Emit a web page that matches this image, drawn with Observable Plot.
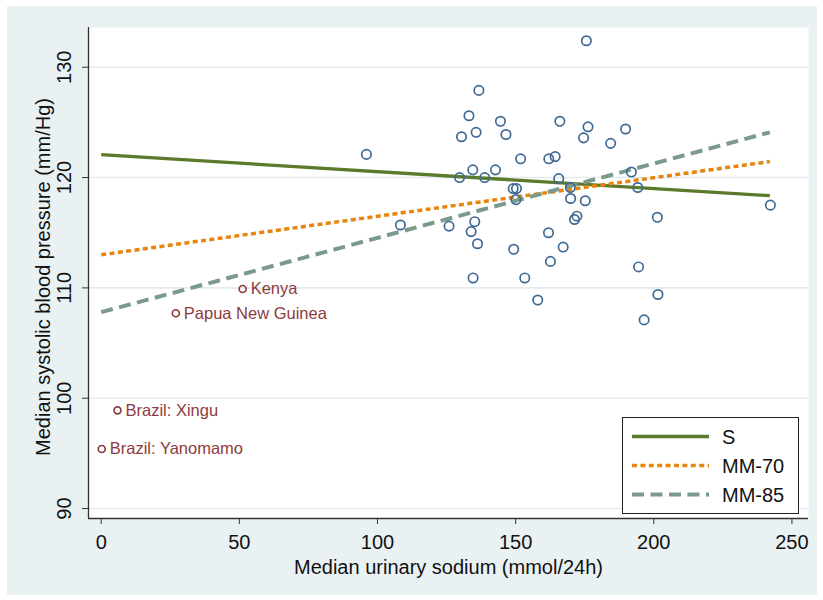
<!DOCTYPE html>
<html>
<head>
<meta charset="utf-8">
<script src="https://cdn.jsdelivr.net/npm/d3@7"></script>
<script src="https://cdn.jsdelivr.net/npm/@observablehq/plot@0.6"></script>
<style>
  html, body { margin: 0; padding: 0; background: #ffffff; }
  #wrap { position: relative; width: 823px; height: 600px; overflow: hidden; }
  #bg { position: absolute; left: 7px; top: 6px; width: 810px; height: 589px; background: #eaf1f3; }
  #chart { position: absolute; left: 0; top: 0; }
  #legend { position: absolute; left: 622px; top: 417px; }
</style>
</head>
<body>
<div id="wrap"><div id="bg"></div><div id="chart"></div><div id="legend"></div></div>
<script>
// Cluster of populations (median urinary sodium, median systolic BP)
const sodium = [96.0,108.3,125.9,129.7,130.4,133.1,133.9,134.5,134.6,135.2,135.7,136.2,136.7,138.8,142.7,144.5,146.5,149.1,150.3,150.1,149.3,151.8,153.3,158.0,162.0,161.9,162.6,164.3,165.6,166.0,167.2,169.9,169.8,172.2,171.3,174.6,175.2,175.6,176.2,184.4,189.8,191.9,194.2,194.5,196.5,201.3,201.5,242.2];
const sbp    = [122.1,115.7,115.6,120.0,123.7,125.6,115.1,120.7,110.9,116.0,124.1,114.0,127.9,120.0,120.7,125.1,123.9,119.0,119.0,118.0,113.5,121.7,110.9,108.9,121.7,115.0,112.4,121.9,119.9,125.1,113.7,118.1,119.1,116.5,116.2,123.6,117.9,132.4,124.6,123.1,124.4,120.5,119.1,111.9,107.1,116.4,109.4,117.5];

// Labelled low-sodium populations
const labelNames  = ["Kenya","Papua New Guinea","Brazil: Xingu","Brazil: Yanomamo"];
const labelSodium = [51.2,27.0,5.9,0.2];
const labelSbp    = [109.9,107.7,98.9,95.4];

// Fitted lines
const lineNames = ["S","MM-70","MM-85"];
const lineX0 = [0,0,0];
const lineX1 = [242,242,242];
const lineY0 = [122.07,113.0,107.8];
const lineY1 = [118.36,121.45,124.1];

const xTicks = [0,50,100,150,200,250];
const yTicks = [90,100,110,120,130];
const xTitle = "Median urinary sodium (mmol/24h)";
const yTitle = "Median systolic blood pressure (mm/Hg)";

const lineColors = {"S":"#5b7a2c","MM-70":"#e8850f","MM-85":"#7c9a8b"};
const lineDash = {"S":null,"MM-70":"5,3.4","MM-85":"12,6.5"};
const lineWidth = {"S":3.3,"MM-70":3.5,"MM-85":4};

const points = sodium.map((x,i)=>({x, y: sbp[i]}));
const labelled = labelNames.map((n,i)=>({name:n, x:labelSodium[i], y:labelSbp[i]}));
const lines = lineNames.map((n,i)=>({name:n, x1:lineX0[i], y1:lineY0[i], x2:lineX1[i], y2:lineY1[i]}));

const xDom = [-4.6, 256];
const yDom = [89.1, 133.6];
const FONT = "Liberation Sans, Arial, Helvetica, sans-serif";

const chart = Plot.plot({
  width: 823, height: 600,
  marginLeft: 88, marginRight: 15, marginTop: 27, marginBottom: 82,
  style: {fontFamily: FONT, fontSize: "20px", background: "transparent", color: "#111"},
  x: {domain: xDom},
  y: {domain: yDom},
  marks: [
    Plot.frame({fill: "white", stroke: "none"}),
    Plot.gridY(yTicks, {stroke: "#e3ebee", strokeOpacity: 1, strokeWidth: 1.6}),
    ...lines.map(l => Plot.link([l], {
      x1: "x1", y1: "y1", x2: "x2", y2: "y2",
      stroke: lineColors[l.name], strokeWidth: lineWidth[l.name],
      strokeDasharray: lineDash[l.name], strokeLinecap: "butt"
    })),
    Plot.dot(points, {x: "x", y: "y", r: 4.7, stroke: "#3f6a94", strokeWidth: 1.7, fill: "none"}),
    Plot.dot(labelled, {x: "x", y: "y", r: 3.5, stroke: "#8e3b40", strokeWidth: 1.7, fill: "none"}),
    Plot.text(labelled, {x: "x", y: "y", text: "name", dx: 8, textAnchor: "start", fill: "#8e3b40", fontSize: 16.5}),
    Plot.ruleX([xDom[0]], {stroke: "#333", strokeWidth: 1.3}),
    Plot.ruleY([yDom[0]], {stroke: "#333", strokeWidth: 1.3}),
    Plot.axisX({ticks: xTicks, tickSize: 6, tickPadding: 10, label: null, stroke: "#333", fontSize: 20}),
    Plot.axisY({ticks: yTicks, tickSize: 6, tickFormat: () => "", label: null, stroke: "#333"}),
    Plot.text(yTicks, {y: d => d, frameAnchor: "left", text: d => String(d), rotate: -90, dx: -23.5, textAnchor: "middle", lineAnchor: "middle", fontSize: 20}),
    Plot.text([xTitle], {frameAnchor: "bottom", text: d => d, dy: 49, textAnchor: "middle", lineAnchor: "middle", fontSize: 20}),
    Plot.text([yTitle], {frameAnchor: "left", text: d => d, dx: -45, dy: 4, rotate: -90, textAnchor: "middle", lineAnchor: "middle", fontSize: 20})
  ]
});
document.getElementById("chart").appendChild(chart);

// Legend
const ns = "http://www.w3.org/2000/svg";
const lg = document.createElementNS(ns, "svg");
lg.setAttribute("width", 178); lg.setAttribute("height", 98);
lg.style.fontFamily = FONT;
const box = document.createElementNS(ns, "rect");
box.setAttribute("x", 0.5); box.setAttribute("y", 0.5); box.setAttribute("width", 176); box.setAttribute("height", 96);
box.setAttribute("fill", "white"); box.setAttribute("stroke", "#222"); box.setAttribute("stroke-width", 1);
lg.appendChild(box);
const rowY = [19.5, 48.5, 77.5];
lineNames.forEach((n, i) => {
  const ln = document.createElementNS(ns, "line");
  ln.setAttribute("x1", 10); ln.setAttribute("x2", 87);
  ln.setAttribute("y1", rowY[i]); ln.setAttribute("y2", rowY[i]);
  ln.setAttribute("stroke", lineColors[n]); ln.setAttribute("stroke-width", lineWidth[n]);
  if (lineDash[n]) ln.setAttribute("stroke-dasharray", lineDash[n]);
  lg.appendChild(ln);
  const t = document.createElementNS(ns, "text");
  t.setAttribute("x", 100); t.setAttribute("y", rowY[i]);
  t.setAttribute("dy", "0.35em"); t.setAttribute("font-size", 20); t.setAttribute("fill", "#111");
  t.textContent = n;
  lg.appendChild(t);
});
document.getElementById("legend").appendChild(lg);
</script>
</body>
</html>
